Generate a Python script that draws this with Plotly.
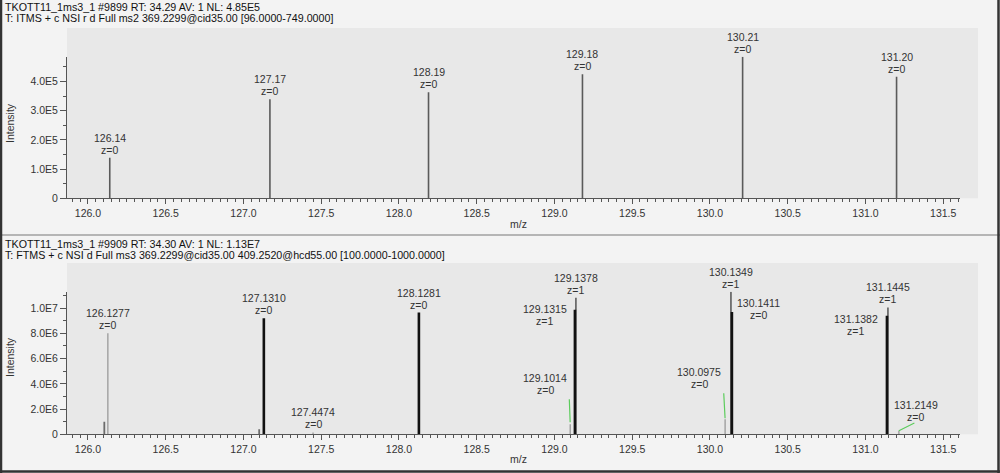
import plotly.graph_objects as go

FONT = "Liberation Sans, Arial, sans-serif"

# ---------------- data ----------------
header_top = ["TKOTT11_1ms3_1 #9899 RT: 34.29 AV: 1 NL: 4.85E5",
              "T: ITMS + c NSI r d Full ms2 369.2299@cid35.00 [96.0000-749.0000]"]
header_bot = ["TKOTT11_1ms3_1 #9909 RT: 34.30 AV: 1 NL: 1.13E7",
              "T: FTMS + c NSI d Full ms3 369.2299@cid35.00 409.2520@hcd55.00 [100.0000-1000.0000]"]

top_mz = [126.14, 127.17, 128.19, 129.18, 130.21, 131.20]
top_int = [1.39e5, 3.39e5, 3.63e5, 4.25e5, 4.85e5, 4.16e5]
top_lab = ["126.14", "127.17", "128.19", "129.18", "130.21", "131.20"]
top_z = [0, 0, 0, 0, 0, 0]

# bottom spectrum, split by drawing group
light_mz = [126.1277, 127.4474, 129.1014, 130.0975, 131.2149]
light_int = [8.0e6, 0.15e6, 0.8e6, 1.2e6, 0.28e6]
light_lab = ["126.1277", "127.4474", "129.1014", "130.0975", "131.2149"]
light_z = [0, 0, 0, 0, 0]

mid_mz = [126.105, 127.101, 129.1378, 130.1349, 131.1445]
mid_int = [1.0e6, 0.4e6, 10.83e6, 11.3e6, 10.05e6]
mid_lab = [None, None, "129.1378", "130.1349", "131.1445"]
mid_z = [None, None, 1, 1, 1]

dark_mz = [127.1310, 128.1281, 129.1315, 130.1411, 131.1382]
dark_int = [9.2e6, 9.65e6, 9.87e6, 9.7e6, 9.4e6]
dark_lab = ["127.1310", "128.1281", "129.1315", "130.1411", "131.1382"]
dark_z = [0, 0, 1, 0, 1]

x_range = [125.865, 131.608]
top_yticks = [0, 1e5, 2e5, 3e5, 4e5]
top_yticktext = ["0", "1.0E5", "2.0E5", "3.0E5", "4.0E5"]
bot_yticks = [0, 2e6, 4e6, 6e6, 8e6, 1e7]
bot_yticktext = ["0", "2.0E6", "4.0E6", "6.0E6", "8.0E6", "1.0E7"]

# label placement (pixel offsets of label block centre from peak top)
label_offsets = {
    "129.1014": (-25, 40),
    "130.0975": (-26, 40.7),
    "131.2149": (17, 19.4),
    "129.1315": (-30, -5),
    "130.1411": (27, 3),
    "131.1382": (-31, -9),
}
leaders = {  # green leader lines: (ax, ay, standoff)
    "129.1014": (-1, -27, 2),
    "130.0975": (-1.5, -28, 1),
    "131.2149": (17, -8.5, 0),
}

# ---------------- figure ----------------
W, H = 1000, 473
L, R = 67, 40
PW = W - L - R


def px(xp):
    return (xp - L) / PW


def py(yp):
    return (H - yp) / H


def stick(mz, inten):
    xs, ys = [], []
    for m, i in zip(mz, inten):
        xs += [m, m, None]
        ys += [0, i, None]
    return xs, ys


fig = go.Figure()
xs, ys = stick(top_mz, top_int)
fig.add_trace(go.Scatter(x=xs, y=ys, mode="lines", line=dict(color="#5a5a5a", width=1.6),
                         xaxis="x", yaxis="y", hoverinfo="skip", showlegend=False))
for mz, it, col, w in [(light_mz, light_int, "#a4a4a4", 1.5),
                       (mid_mz, mid_int, "#6c6c6c", 1.8),
                       (dark_mz, dark_int, "#111111", 2.6)]:
    xs, ys = stick(mz, it)
    fig.add_trace(go.Scatter(x=xs, y=ys, mode="lines", line=dict(color=col, width=w),
                             xaxis="x2", yaxis="y2", hoverinfo="skip", showlegend=False))

annotations = []
lab_font = dict(family=FONT, size=10.5, color="#333333")


def add_labels(mzs, ints, labs, zs, xr, yr):
    for m, i, lab, z in zip(mzs, ints, labs, zs):
        if lab is None:
            continue
        dx, dy = label_offsets.get(lab, (0, 14))
        for txt, off in [(lab, 6), ("z=%d" % z, -6)]:
            annotations.append(dict(x=m, y=i, xref=xr, yref=yr, text=txt, showarrow=False,
                                    xanchor="center", yanchor="middle",
                                    xshift=dx, yshift=dy + off, font=lab_font))
        if lab in leaders:
            ax, ay, so = leaders[lab]
            annotations.append(dict(x=m, y=i, xref=xr, yref=yr, text=" ", showarrow=True,
                                    ax=ax, ay=ay, arrowhead=0, arrowwidth=1.2,
                                    arrowcolor="#5ccc5c", standoff=so,
                                    font=dict(size=1)))


add_labels(top_mz, top_int, top_lab, top_z, "x", "y")
add_labels(light_mz, light_int, light_lab, light_z, "x2", "y2")
add_labels(mid_mz, mid_int, mid_lab, mid_z, "x2", "y2")
add_labels(dark_mz, dark_int, dark_lab, dark_z, "x2", "y2")

hdr_font = dict(family=FONT, size=10.7, color="#111111")
for lines, ys0 in [(header_top, (7, 18)), (header_bot, (244, 255))]:
    for t, yy in zip(lines, ys0):
        annotations.append(dict(x=px(3), y=py(yy), xref="paper", yref="paper", text=t,
                                showarrow=False, xanchor="left", yanchor="middle", font=hdr_font))

title_font = dict(family=FONT, size=10.5, color="#333333")
for yy in (224, 459):
    annotations.append(dict(x=px(518), y=py(yy), xref="paper", yref="paper", text="m/z",
                            showarrow=False, xanchor="center", yanchor="middle", font=title_font))
for yy in (123, 357):
    annotations.append(dict(x=px(10), y=py(yy), xref="paper", yref="paper", text="Intensity",
                            showarrow=False, xanchor="center", yanchor="middle", textangle=-90,
                            font=title_font))

shapes = [
    dict(type="rect", xref="paper", yref="paper", x0=px(67), x1=px(978), y0=py(198.3), y1=py(28),
         fillcolor="#e8e8e8", line=dict(width=0), layer="below"),
    dict(type="rect", xref="paper", yref="paper", x0=px(67), x1=px(978), y0=py(434.3), y1=py(263),
         fillcolor="#e8e8e8", line=dict(width=0), layer="below"),
    dict(type="line", xref="paper", yref="paper", x0=px(0), x1=px(1000), y0=py(235), y1=py(235),
         line=dict(color="#a0a0a0", width=1.5)),
    dict(type="line", xref="paper", yref="paper", x0=px(1), x1=px(1), y0=py(0), y1=py(473),
         line=dict(color="#333333", width=2.5)),
    dict(type="line", xref="paper", yref="paper", x0=px(998.5), x1=px(998.5), y0=py(0), y1=py(473),
         line=dict(color="#333333", width=2.5)),
    dict(type="line", xref="paper", yref="paper", x0=px(0), x1=px(1000), y0=py(471.5), y1=py(471.5),
         line=dict(color="#333333", width=2.5)),
]

tick_font = dict(family=FONT, size=10.5, color="#333333")
xaxis_common = dict(range=x_range, showline=True, linecolor="#555555", linewidth=1,
                    ticks="outside", ticklen=5, tickwidth=1, tickcolor="#555555",
                    tick0=126, dtick=0.5, tickformat=".1f", showgrid=False, zeroline=False,
                    tickfont=tick_font, automargin=False,
                    minor=dict(dtick=0.05, tick0=126, ticks="outside", ticklen=3,
                               tickcolor="#555555", showgrid=False))
yaxis_common = dict(showline=True, linecolor="#555555", linewidth=1,
                    ticks="outside", ticklen=6, tickwidth=1, tickcolor="#555555",
                    showgrid=False, zeroline=False, tickfont=tick_font, automargin=False)

fig.update_layout(
    width=W, height=H, autosize=False,
    margin=dict(l=L, r=R, t=0, b=0, pad=0),
    paper_bgcolor="#f3f3f3", plot_bgcolor="#e8e8e8",
    showlegend=False, hovermode=False,
    xaxis=dict(domain=[0, 1], anchor="y", **xaxis_common),
    yaxis=dict(domain=[py(198.3), py(56.7)], anchor="x", range=[0, 4.85e5],
               tickvals=top_yticks, ticktext=top_yticktext,
               minor=dict(dtick=5e4, tick0=0, ticks="outside", ticklen=3, tickcolor="#555555",
                          showgrid=False),
               **yaxis_common),
    xaxis2=dict(domain=[0, 1], anchor="y2", **xaxis_common),
    yaxis2=dict(domain=[py(434.3), py(291.7)], anchor="x2", range=[0, 1.13e7],
                tickvals=bot_yticks, ticktext=bot_yticktext,
                minor=dict(dtick=1e6, tick0=0, ticks="outside", ticklen=3, tickcolor="#555555",
                           showgrid=False),
                **yaxis_common),
    annotations=annotations,
    shapes=shapes,
)

fig.write_html("out.html", config={"displayModeBar": False},
               post_script="document.body.style.margin='0';")
